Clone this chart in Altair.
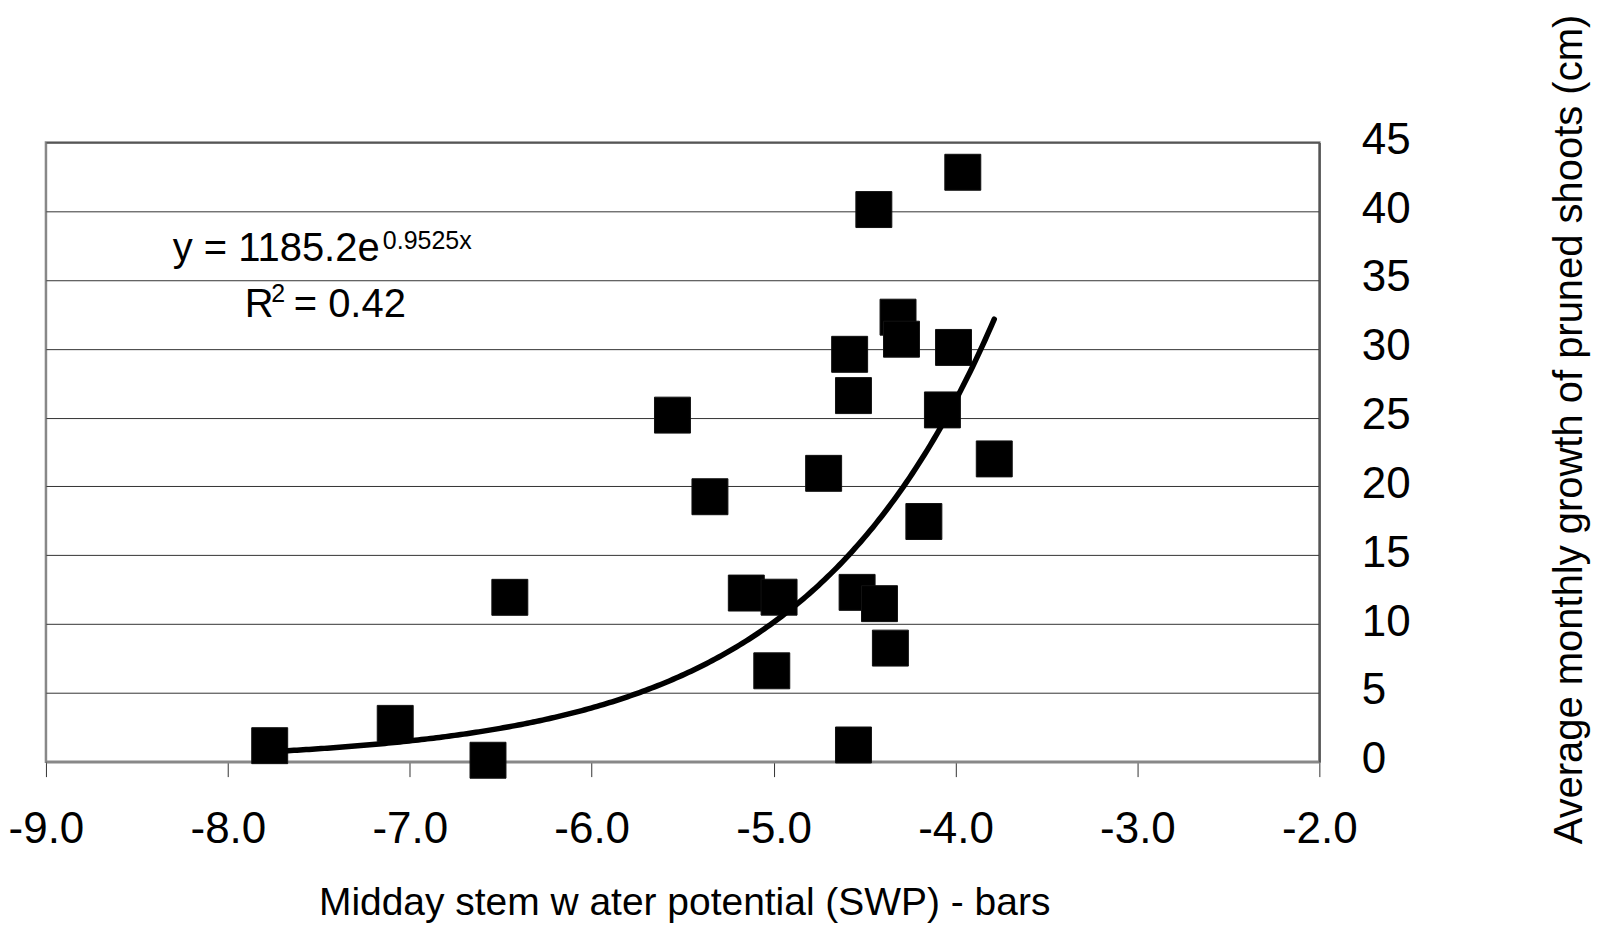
import altair as alt
import pandas as pd
import numpy as np

# Data
swp = [-7.77, -7.08, -6.57, -6.45, -5.556, -5.35, -5.15, -4.97, -5.01, -4.725,
       -4.582, -4.561, -4.316, -4.297, -4.011, -4.072, -3.787, -4.174, -4.541,
       -4.418, -4.358, -4.561, -4.449, -3.96]
growth = [1.16, 2.78, 0.1, 11.94, 25.18, 19.25, 12.25, 11.95, 6.6, 20.95,
          29.6, 26.6, 32.3, 30.7, 30.1, 25.56, 22.0, 17.45, 12.3,
          11.48, 8.25, 1.21, 40.12, 42.83]

# Exponential trendline given on the chart: y = 1185.2 e^(0.9525 x)
fit_a = 1185.2
fit_b = 0.9525

x_ticks = [-9, -8, -7, -6, -5, -4, -3, -2]
y_ticks = [0, 5, 10, 15, 20, 25, 30, 35, 40, 45]

# Equation annotation pieces (in data coordinates)
ann_text = ["y = 1185.2e", "0.9525x", "R", "2", "= 0.42"]
ann_x = [-8.303, -7.148, -7.907, -7.761, -7.638]
ann_y = [36.40, 37.28, 32.32, 33.41, 32.32]
ann_big = [True, False, True, False, True]

pts = pd.DataFrame({"x": swp, "y": growth})
xs = np.linspace(min(swp), max(swp), 240)
trend = pd.DataFrame({"x": xs, "y": fit_a * np.exp(fit_b * xs)})
ann = pd.DataFrame({"x": ann_x, "y": ann_y, "t": ann_text, "big": ann_big})

FONT = "Liberation Sans"

x_scale = alt.Scale(domain=[-9, -2], nice=False, zero=False)
y_scale = alt.Scale(domain=[0, 45], nice=False, zero=False)

x_axis = alt.Axis(
    values=x_ticks,
    labelExpr="(datum.value < 0 ? '-' : '') + format(abs(datum.value), '.1f')",
    labelFont=FONT, labelFontSize=44, labelColor="black", labelPadding=31,
    labelFlush=False, labelOverlap=False,
    tickSize=15, tickColor="#333333", tickWidth=1,
    domainColor="#888888", domainWidth=2.5,
    grid=False,
    title="Midday stem w ater potential (SWP) - bars",
    titleFont=FONT, titleFontSize=39, titleFontWeight="normal", titleColor="black",
    titleX=639, titleY=153, titleAlign="center", titleBaseline="alphabetic",
)
y_axis = alt.Axis(
    orient="right",
    values=y_ticks,
    labelFont=FONT, labelFontSize=44, labelColor="black", labelPadding=42,
    labelOffset=-2, labelFlush=False, labelOverlap=False,
    ticks=False, tickSize=0,
    domainColor="#555555", domainWidth=2,
    grid=True, gridColor="#333333", gridWidth=1,
    title="Average monthly growth of pruned shoots (cm)",
    titleFont=FONT, titleFontSize=40, titleFontWeight="normal", titleColor="black",
    titleAngle=270, titleX=262, titleY=287, titleAlign="center", titleBaseline="alphabetic",
)

x_enc = alt.X("x:Q", scale=x_scale, axis=x_axis)
y_enc = alt.Y("y:Q", scale=y_scale, axis=y_axis)

points = alt.Chart(pts).mark_square(
    size=1296, color="black", opacity=1, filled=True,
    stroke="#111111", strokeWidth=1, strokeJoin="round"
).encode(x=x_enc, y=y_enc)

line = alt.Chart(trend).mark_line(
    color="black", strokeWidth=5.5, strokeCap="round", strokeJoin="round"
).encode(x=x_enc, y=y_enc, order="x:Q")

big_txt = alt.Chart(ann).transform_filter("datum.big").mark_text(
    font=FONT, fontSize=40, color="black", align="left", baseline="alphabetic"
).encode(x=x_enc, y=y_enc, text="t:N")

small_txt = alt.Chart(ann).transform_filter("!datum.big").mark_text(
    font=FONT, fontSize=25, color="black", align="left", baseline="alphabetic"
).encode(x=x_enc, y=y_enc, text="t:N")

chart = alt.layer(points, line, big_txt, small_txt).properties(
    width=1275, height=620,
    padding={"left": 38, "top": 134, "right": 275, "bottom": 164},
    autosize=alt.AutoSizeParams(type="none"),
    background="white",
).configure_view(stroke="#888888", strokeWidth=2.5)

chart.save("out.html", embed_options={"renderer": "svg", "actions": False})
